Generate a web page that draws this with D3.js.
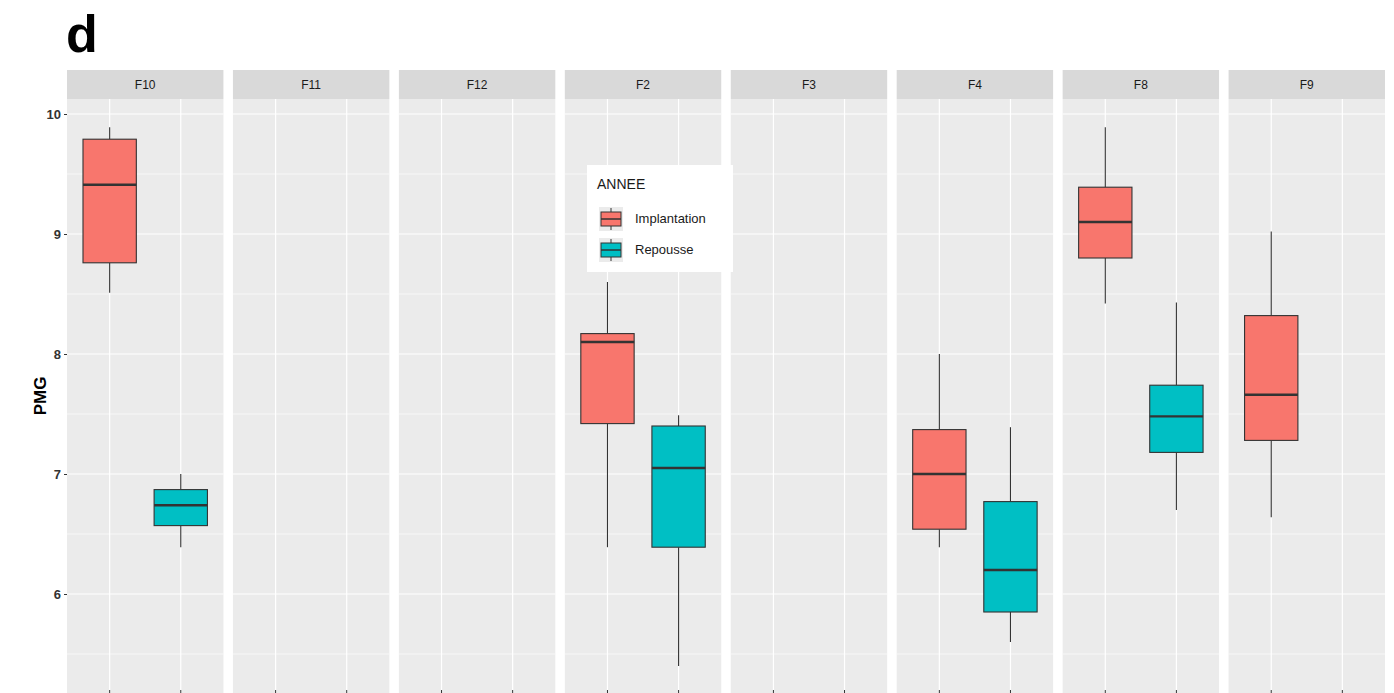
<!DOCTYPE html>
<html>
<head>
<meta charset="utf-8">
<script src="https://cdn.jsdelivr.net/npm/d3@7"></script>
<style>
  body{margin:0;background:#fff;}
  text{font-family:"Liberation Sans",Arial,sans-serif;}
</style>
</head>
<body>
<svg id="chart"></svg>
<script>
// data
var facets = ["F10","F11","F12","F2","F3","F4","F8","F9"];
var groups = ["Implantation","Repousse"];
var groupColors = ["#F8766D","#00BFC4"];
var yTicks = [6,7,8,9,10];

var boxFacet   = ["F10","F10","F2","F2","F4","F4","F8","F8","F9"];
var boxGroup   = ["Implantation","Repousse","Implantation","Repousse","Implantation","Repousse","Implantation","Repousse","Implantation"];
var whiskerLow = [8.51,6.39,6.39,5.40,6.39,5.60,8.42,6.70,6.64];
var q1         = [8.76,6.57,7.42,6.39,6.54,5.85,8.80,7.18,7.28];
var medians    = [9.41,6.74,8.10,7.05,7.00,6.20,9.10,7.48,7.66];
var q3         = [9.79,6.87,8.17,7.40,7.37,6.77,9.39,7.74,8.32];
var whiskerHigh= [9.89,7.00,8.60,7.49,8.00,7.39,9.89,8.43,9.02];

function go(){
  var width = 1394, height = 693;
  var margin = {top:99, left:67, right:9, bot:0};
  var stripH = 29;

  var svg = d3.select("#chart").attr("width",width).attr("height",height);

  var fill = d3.scaleOrdinal().domain(groups).range(groupColors);

  var panelX = d3.scaleBand()
                 .domain(facets)
                 .range([margin.left,width-margin.right])
                 .paddingInner(0.0573);
  var bw = panelX.bandwidth();

  var inner = d3.scalePoint().domain(groups).range([0,bw]).padding(0.6);
  var step = inner.step();

  var yScale = d3.scaleLinear()
                 .domain([5.175,10.125])
                 .range([height-margin.bot,margin.top]);

  var minorTicks = [];
  for(var i=0;i<yTicks.length;i++){ minorTicks.push(yTicks[i]-0.5); }

  // panels
  facets.forEach(function(f){
    var g = svg.append("g").attr("transform","translate("+panelX(f)+",0)");
    g.append("rect")
     .attr("x",0).attr("y",margin.top-stripH)
     .attr("width",bw).attr("height",stripH)
     .attr("fill","#d9d9d9");
    g.append("text")
     .attr("x",bw/2).attr("y",margin.top-stripH/2+4)
     .attr("text-anchor","middle")
     .attr("font-size",12)
     .attr("fill","#1a1a1a")
     .text(f);
    g.append("rect")
     .attr("x",0).attr("y",margin.top)
     .attr("width",bw).attr("height",height-margin.top-margin.bot)
     .attr("fill","#ebebeb");
    g.selectAll("line.minor").data(minorTicks).enter().append("line")
     .attr("x1",0).attr("x2",bw)
     .attr("y1",function(d){return yScale(d);})
     .attr("y2",function(d){return yScale(d);})
     .attr("stroke","#fff").attr("stroke-width",0.6);
    g.selectAll("line.major").data(yTicks).enter().append("line")
     .attr("x1",0).attr("x2",bw)
     .attr("y1",function(d){return yScale(d);})
     .attr("y2",function(d){return yScale(d);})
     .attr("stroke","#fff").attr("stroke-width",1.2);
    g.selectAll("line.vert").data(groups).enter().append("line")
     .attr("x1",function(d){return inner(d);})
     .attr("x2",function(d){return inner(d);})
     .attr("y1",margin.top).attr("y2",height)
     .attr("stroke","#fff").attr("stroke-width",1.2);
    // x ticks (cut off at the bottom)
    g.selectAll("line.xt").data(groups).enter().append("line")
     .attr("x1",function(d){return inner(d);})
     .attr("x2",function(d){return inner(d);})
     .attr("y1",height-3).attr("y2",height)
     .attr("stroke","#333").attr("stroke-width",1);
  });

  // y axis
  var yAxis = d3.axisLeft(yScale).tickValues(yTicks).tickFormat(d3.format("d")).tickSize(3).tickPadding(3);
  var ya = svg.append("g")
     .attr("transform","translate("+margin.left+",0)")
     .call(yAxis);
  ya.select(".domain").remove();
  ya.selectAll(".tick line").attr("stroke","#333");
  ya.selectAll(".tick text")
    .attr("font-size",13).attr("font-weight","bold")
    .attr("fill","#333")
    .style("font-family","'Liberation Sans',Arial,sans-serif");

  svg.append("text")
     .attr("transform","translate(46,"+((margin.top+height)/2)+") rotate(-90)")
     .attr("text-anchor","middle")
     .attr("font-size",17).attr("font-weight","bold")
     .attr("fill","#000")
     .text("PMG");

  svg.append("text")
     .attr("x",66).attr("y",52)
     .attr("font-size",52).attr("font-weight","bold")
     .attr("fill","#000")
     .text("d");

  // boxes
  var boxW = step*0.75;
  boxFacet.forEach(function(f,i){
    var cx = panelX(f)+inner(boxGroup[i]);
    var g = svg.append("g");
    g.append("line")
     .attr("x1",cx).attr("x2",cx)
     .attr("y1",yScale(whiskerHigh[i])).attr("y2",yScale(q3[i]))
     .attr("stroke","#333").attr("stroke-width",1.1);
    g.append("line")
     .attr("x1",cx).attr("x2",cx)
     .attr("y1",yScale(q1[i])).attr("y2",yScale(whiskerLow[i]))
     .attr("stroke","#333").attr("stroke-width",1.1);
    g.append("rect")
     .attr("x",cx-boxW/2).attr("y",yScale(q3[i]))
     .attr("width",boxW).attr("height",yScale(q1[i])-yScale(q3[i]))
     .attr("fill",fill(boxGroup[i]))
     .attr("stroke","#333").attr("stroke-width",1.1);
    g.append("line")
     .attr("x1",cx-boxW/2).attr("x2",cx+boxW/2)
     .attr("y1",yScale(medians[i])).attr("y2",yScale(medians[i]))
     .attr("stroke","#333").attr("stroke-width",2.4);
  });

  // legend
  var lg = svg.append("g").attr("transform","translate(587,165)");
  lg.append("rect").attr("width",146).attr("height",107).attr("fill","#fff");
  lg.append("text").attr("x",10).attr("y",24)
    .attr("font-size",14).attr("fill","#1a1a1a").text("ANNEE");
  groups.forEach(function(gname,i){
    var ky = 42+i*31;
    var k = lg.append("g").attr("transform","translate(12,"+ky+")");
    k.append("rect").attr("width",24).attr("height",24).attr("fill","#ebebeb");
    k.append("line").attr("x1",12).attr("x2",12).attr("y1",1).attr("y2",23)
     .attr("stroke","#333").attr("stroke-width",1);
    k.append("rect").attr("x",2).attr("y",5).attr("width",20).attr("height",14)
     .attr("fill",fill(gname)).attr("stroke","#333").attr("stroke-width",1);
    k.append("line").attr("x1",2).attr("x2",22).attr("y1",12).attr("y2",12)
     .attr("stroke","#333").attr("stroke-width",1.5);
    lg.append("text").attr("x",48).attr("y",ky+16)
      .attr("font-size",13).attr("fill","#1a1a1a").text(gname);
  });
}
go();
</script>
</body>
</html>
